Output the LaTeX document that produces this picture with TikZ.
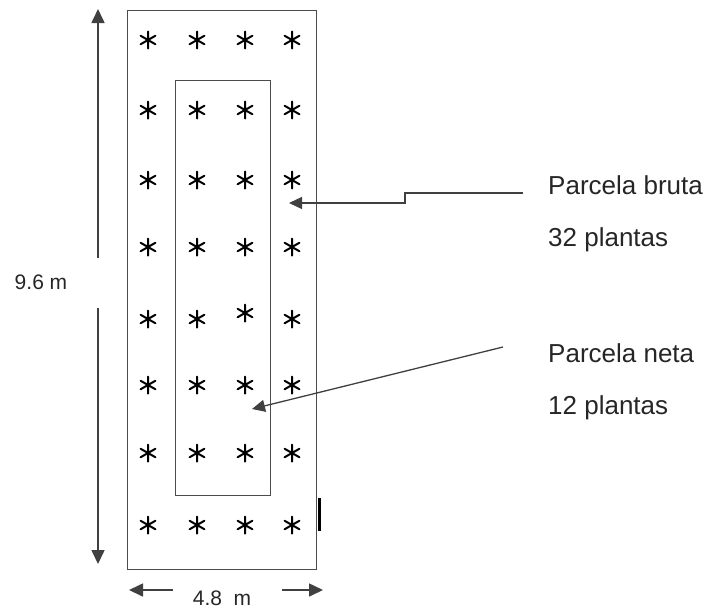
\documentclass[tikz,border=0pt]{standalone}
\usepackage{fontspec}
\setmainfont{Liberation Sans}
\usetikzlibrary{arrows.meta}
\begin{document}
\begin{tikzpicture}[x=1pt,y=-1pt,
  plotline/.style={draw=black!70,line width=1.3pt},
  lead/.style={draw=black!75,line width=1.3pt,-{Triangle[length=13pt,width=12pt]}},
  dimline/.style={draw=black!75,line width=1.6pt,-{Triangle[length=14pt,width=13pt]}},
  tag/.style={anchor=west,inner sep=0pt,font=\fontsize{26}{30}\selectfont,text=black!85},
  dimtag/.style={inner sep=0pt,font=\fontsize{21}{25}\selectfont,text=black!85},
  plant/.pic={\draw[black,line width=2pt,line cap=round]
     (0,-8.5)--(0,8.5) (-7.4,-4.25)--(7.4,4.25) (-7.4,4.25)--(7.4,-4.25);}
]
\useasboundingbox (0,0) rectangle (709,608);
% outer and inner plots
\node[plotline,minimum width=189pt,minimum height=559pt,inner sep=0pt,anchor=north west] (bruta) at (127,10) {};
\node[plotline,minimum width=95pt,minimum height=415pt,inner sep=0pt,anchor=north west] (neta) at (175,80) {};
\draw[black,line width=2.4pt] (319.5,498) -- (319.5,531);
% plants: 4 columns x 8 rows
\foreach \y in {40,110,180,247,385,453,525}
  \foreach \x in {148,197,245,292}
    \pic at (\x,\y) {plant};
\foreach \x/\y in {148/319,197/319,245/313,292/319}
    \pic at (\x,\y) {plant};
% labels
\node[tag] (lb1) at (548,185) {Parcela bruta};
\node[tag] (lb2) at (548,240) {32 plantas};
\node[tag] (ln1) at (548,353) {Parcela neta};
\node[tag] (ln2) at (548,408) {12 plantas};
\node[dimtag] (h) at (41,282) {9.6 m};
\node[dimtag,anchor=base] (w) at (222,605) {4.8\ \ m};
% leaders
\coordinate (bs) at (523,193);
\coordinate (bt) at (289,203);
\coordinate (ns) at (503,347);
\coordinate (nt) at (252,409);
\draw[lead] (bs) -- (405,193) -- (405,203) -- (bt);
\draw[lead] (ns) -- (nt);
% dimensions
\coordinate (vt) at (98,9);
\coordinate (vb) at (98,564);
\draw[dimline] (98,258) -- (vt);
\draw[dimline] (98,308) -- (vb);
\coordinate (hl) at (129,590);
\coordinate (hr) at (323,590);
\draw[dimline] (173,590) -- (hl);
\draw[dimline] (282,590) -- (hr);
\end{tikzpicture}
\end{document}
